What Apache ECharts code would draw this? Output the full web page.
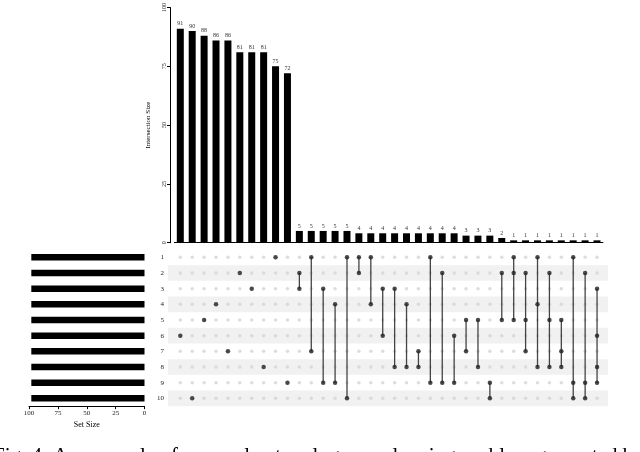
<!DOCTYPE html>
<html>
<head>
<meta charset="utf-8">
<script src="https://cdn.jsdelivr.net/npm/echarts@6/dist/echarts.min.js"></script>
<style>html,body{margin:0;padding:0;background:#fff;}#c{width:640px;height:452px;}</style>
</head>
<body>
<div id="c"></div>
<script>
// ---- data ----
var sets = ['1','2','3','4','5','6','7','8','9','10'];
var setSizes = [98,98,98,98,98,98,98,98,98,98];
var setSizeTicks = [0,25,50,75,100];
var intersectionTicks = [0,25,50,75,100];
var intersectionSizes = [91,90,88,86,86,81,81,81,75,72,
  5,5,5,5,5,4,4,4,4,4,4,4,4,4,3,3,3,2,1,1,1,1,1,1,1,1];
var intersectionMembers = [
  ['6'],['10'],['5'],['4'],['7'],['2'],['3'],['8'],['1'],['9'],
  ['2','3'],['1','7'],['3','9'],['4','9'],['1','10'],['1','2'],['1','4'],['3','6'],['3','8'],
  ['4','8'],['7','8'],['1','9'],['2','9'],['6','9'],['5','7'],['5','8'],['9','10'],['2','5'],
  ['1','2','5'],['2','5','7'],['1','4','8'],['2','5','8'],['5','7','8'],['1','9','10'],['2','9','10'],['3','6','8','9']
];
var caption = 'Fig. 4: An example of a complex topology overlapping problem generated by';

// ---- build ----
var cols = intersectionSizes.map(function(_, i){ return 'c' + i; });
var greyDots = [], darkDots = [], lineData = [];
cols.forEach(function(c, i){
  sets.forEach(function(s, r){ greyDots.push([i, r]); });
  var idx = intersectionMembers[i].map(function(s){ return sets.indexOf(s); });
  idx.forEach(function(r){ darkDots.push([i, r]); });
  if (idx.length > 1) lineData.push([i, Math.min.apply(null, idx), Math.max.apply(null, idx)]);
});
var stripeRows = [];
sets.forEach(function(s, r){ if (r % 2 === 1) stripeRows.push([0, r]); });

var FONT = 'Liberation Serif';
var chart = echarts.init(document.getElementById('c'), null, {renderer: 'canvas'});
chart.setOption({
  animation: false,
  title: {
    text: caption, left: -7, top: 446, padding: 0,
    textStyle: {fontFamily: FONT, fontSize: 21, fontWeight: 'normal', color: '#000'}
  },
  grid: [
    {left: 174.35, width: 428.6, top: 1, height: 241.7},
    {left: 168, width: 440, top: 249.5, height: 156.67},
    {left: 29, width: 115.5, top: 249.5, height: 156.67}
  ],
  xAxis: [
    {gridIndex: 0, type: 'category', data: cols, boundaryGap: true,
     axisLine: {lineStyle: {color: '#000', width: 1}}, axisTick: {show: false}, axisLabel: {show: false}},
    {gridIndex: 1, type: 'value', min: -1.033, max: 35.92, show: false},
    {gridIndex: 2, type: 'value', inverse: true, min: 0, max: 100, interval: 25,
     axisLine: {show: true, lineStyle: {color: '#000', width: 1}},
     axisTick: {show: true, length: 3, lineStyle: {color: '#000'}},
     axisLabel: {fontFamily: FONT, fontSize: 7, color: '#222', margin: 3},
     splitLine: {show: false},
     name: 'Set Size', nameLocation: 'middle', nameGap: 15,
     nameTextStyle: {fontFamily: FONT, fontSize: 8, color: '#000'}}
  ],
  yAxis: [
    {gridIndex: 0, type: 'value', min: 0, max: 100, interval: 25, offset: 4.35,
     axisLine: {show: true, lineStyle: {color: '#000', width: 1}},
     axisTick: {show: true, length: 3, lineStyle: {color: '#000'}},
     axisLabel: {fontFamily: FONT, fontSize: 6, color: '#222', rotate: 90, margin: 3},
     splitLine: {show: false},
     name: 'Intersection Size', nameLocation: 'middle', nameGap: 18, nameRotate: 90,
     nameTextStyle: {fontFamily: FONT, fontSize: 7, color: '#000'}},
    {gridIndex: 1, type: 'category', data: sets, inverse: true, boundaryGap: true,
     axisLine: {show: false}, axisTick: {show: false},
     axisLabel: {fontFamily: FONT, fontSize: 7, color: '#222', margin: 4}},
    {gridIndex: 2, type: 'category', data: sets, inverse: true, boundaryGap: true, show: false}
  ],
  series: [
    {type: 'bar', xAxisIndex: 0, yAxisIndex: 0, data: intersectionSizes, barWidth: 7,
     itemStyle: {color: '#000'},
     label: {show: true, position: 'top', distance: 2, fontFamily: FONT, fontSize: 6, color: '#333'}},
    {type: 'custom', xAxisIndex: 1, yAxisIndex: 1, data: stripeRows, silent: true, z: 0,
     renderItem: function(params, api){
       var cs = params.coordSys;
       var p = api.coord([0, api.value(1)]);
       var h = api.size([0, 1])[1];
       return {type: 'rect', shape: {x: cs.x, y: p[1] - h / 2, width: cs.width, height: h},
               style: {fill: '#f1f1f1'}};
     }},
    {type: 'scatter', xAxisIndex: 1, yAxisIndex: 1, data: greyDots, symbolSize: 3.5,
     itemStyle: {color: '#d4d4d4'}, z: 2, silent: true},
    {type: 'custom', xAxisIndex: 1, yAxisIndex: 1, data: lineData, z: 3,
     renderItem: function(params, api){
       var a = api.coord([api.value(0), api.value(1)]);
       var b = api.coord([api.value(0), api.value(2)]);
       return {type: 'line', shape: {x1: a[0], y1: a[1], x2: b[0], y2: b[1]},
               style: {stroke: '#444', lineWidth: 1.3}};
     }},
    {type: 'scatter', xAxisIndex: 1, yAxisIndex: 1, data: darkDots, symbolSize: 4.5,
     itemStyle: {color: '#222'}, z: 4},
    {type: 'bar', xAxisIndex: 2, yAxisIndex: 2, data: setSizes, barWidth: 6.5,
     itemStyle: {color: '#000'}}
  ]
});
</script>
</body>
</html>
